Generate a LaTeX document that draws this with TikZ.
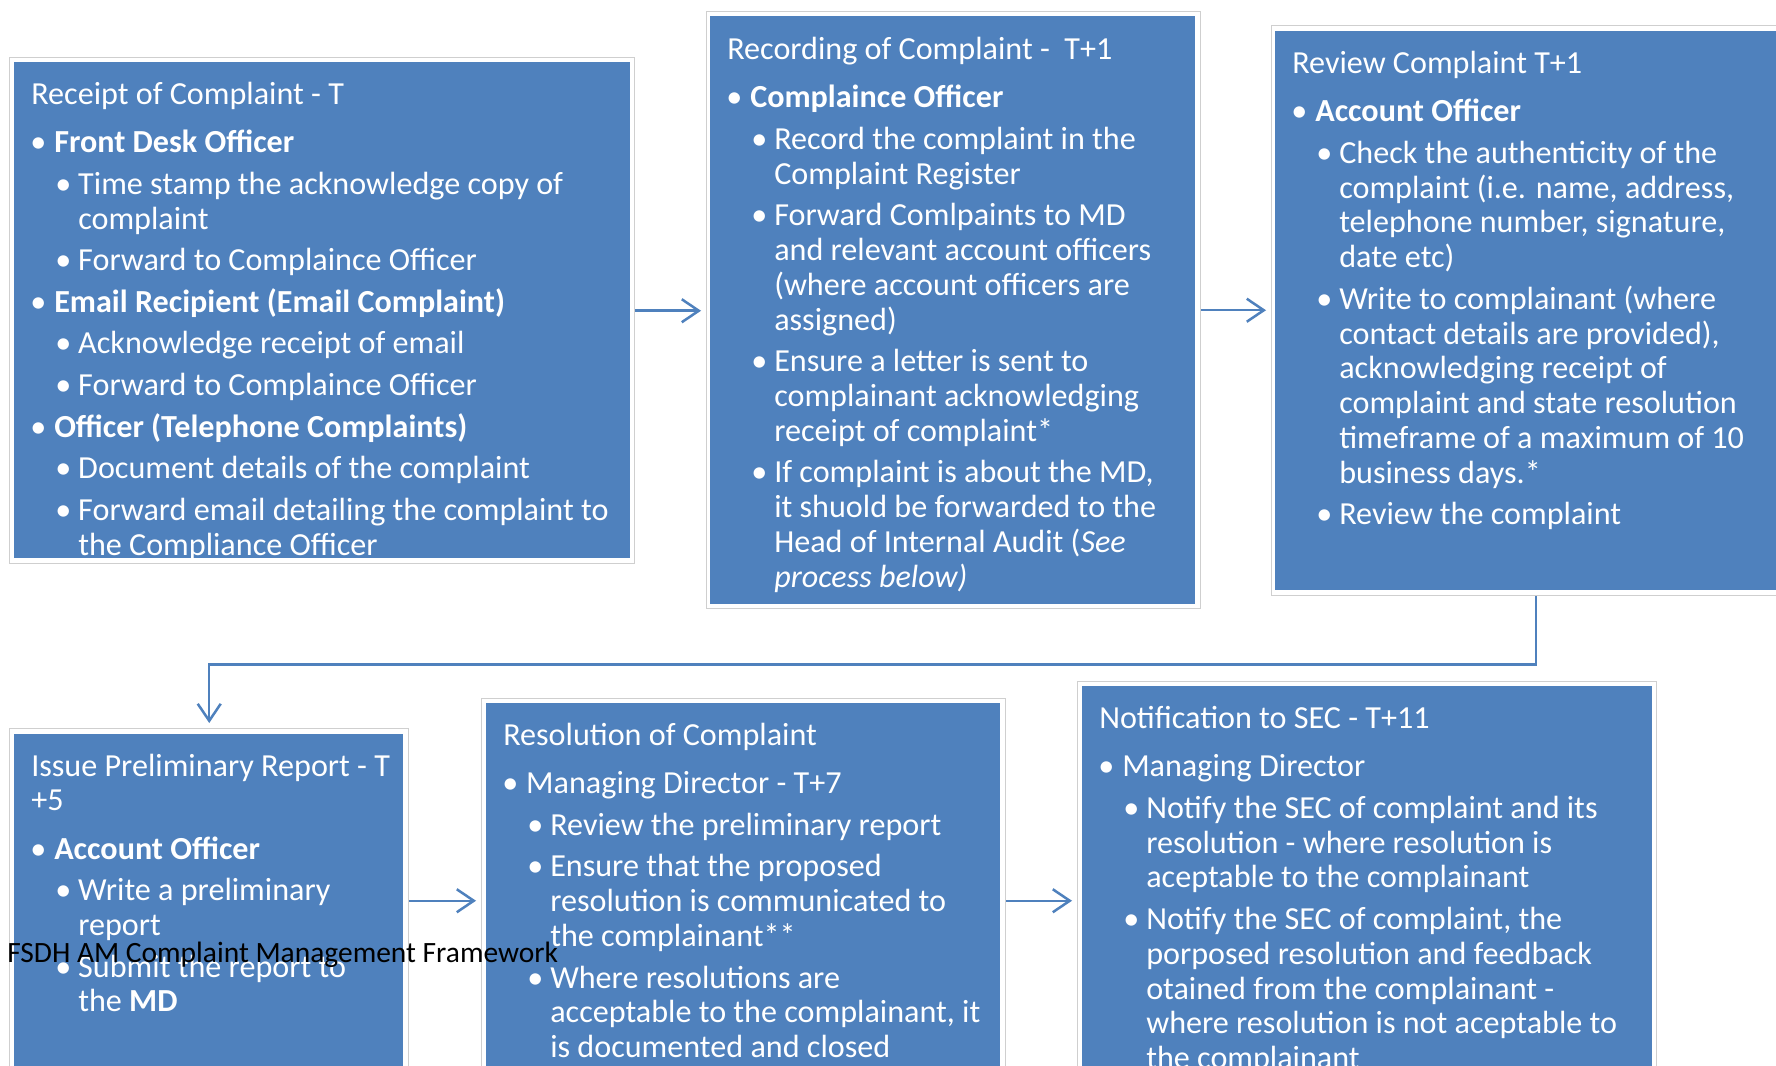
\documentclass[tikz,border=0pt]{standalone}
\usepackage{fontspec}
\setmainfont{Carlito}
\usetikzlibrary{arrows.meta}
\newlength\pxu \setlength\pxu{0.75pt}
\definecolor{boxblue}{HTML}{4F81BD}
\definecolor{framegray}{HTML}{CFCFCF}
\definecolor{arrowblue}{HTML}{4F81BD}
\newcommand\boxtext[1]{\begin{minipage}[t]{480pt}#1\end{minipage}}
\newcommand\Ti[1]{\noindent#1\par\vspace{6.6\pxu}}
\newcommand\La[1]{\par\vspace{6.8\pxu}{\leftskip=23\pxu\noindent\llap{\makebox[24\pxu][l]{\textbullet}}#1\par}}
\newcommand\Lb[1]{\par\vspace{6.8\pxu}{\leftskip=47\pxu\noindent\llap{\makebox[23\pxu][l]{\textbullet}}#1\par}}
\tikzset{
  frame/.style={draw=framegray, line width=1.1pt, fill=white, inner sep=0pt, anchor=north west},
  bluebox/.style={fill=boxblue, draw=none, inner sep=0pt, anchor=north west},
  txt/.style={text=white, inner sep=0pt, anchor=base west,
    font=\fontsize{24.1pt}{26.1pt}\selectfont},
  arr/.style={draw=arrowblue, line width=1.875pt, shorten >=3.75pt,
    -{Straight Barb[length=12.75pt,width=17.25pt]}},
}
\begin{document}
\begin{tikzpicture}[x=0.75pt,y=-0.75pt]
\useasboundingbox (0,0) rectangle (1776,1065);
\fill[white] (0,0) rectangle (1776,1065);
\clip (0,0) rectangle (1776,1065);

% frames and boxes
\node[frame, minimum width=468.75pt, minimum height=379.5pt] (f1) at (9,57) {};
\node[bluebox, minimum width=462pt, minimum height=372pt] (b1) at (14,62) {};
\node[frame, minimum width=370.5pt, minimum height=447.75pt] (f2) at (706,11) {};
\node[bluebox, minimum width=363.75pt, minimum height=441pt] (b2) at (710,16) {};
\node[frame, minimum width=396pt, minimum height=427.5pt] (f3) at (1271,25) {};
\node[bluebox, minimum width=390pt, minimum height=419.25pt] (b3) at (1275,31) {};
\node[frame, minimum width=299.25pt, minimum height=258pt] (f4) at (9,728) {};
\node[bluebox, minimum width=291.75pt, minimum height=255pt] (b4) at (14,734) {};
\node[frame, minimum width=393pt, minimum height=303pt] (f5) at (481,698) {};
\node[bluebox, minimum width=385.5pt, minimum height=300pt] (b5) at (486,703) {};
\node[frame, minimum width=434.25pt, minimum height=328.5pt] (f6) at (1077,681) {};
\node[bluebox, minimum width=427.5pt, minimum height=315pt] (b6) at (1082,686) {};

% texts
\node[txt] (t1) at ([shift={(17,42.5)}]b1.north west) {\boxtext{%
\Ti{Receipt of Complaint - T}
\La{\textbf{Front Desk Officer}}
\Lb{Time stamp the acknowledge copy of\\complaint}
\Lb{Forward to Complaince Officer}
\La{\textbf{Email Recipient (Email Complaint)}}
\Lb{Acknowledge receipt of email}
\Lb{Forward to Complaince Officer}
\La{\textbf{Officer (Telephone Complaints)}}
\Lb{Document details of the complaint}
\Lb{Forward email detailing the complaint to\\the Compliance Officer}}};

\node[txt] (t2) at ([shift={(17,43.5)}]b2.north west) {\boxtext{%
\Ti{Recording of Complaint -\ \ T+1}
\La{\textbf{Complaince Officer}}
\Lb{Record the complaint in the\\Complaint Register}
\Lb{Forward Comlpaints to MD\\and relevant account officers\\(where account officers are\\assigned)}
\Lb{Ensure a letter is sent to\\complainant acknowledging\\receipt of complaint*}
\Lb{If complaint is about the MD,\\it shuold be forwarded to the\\Head of Internal Audit (\textit{See}\\\textit{process below)}}}};

\node[txt] (t3) at ([shift={(17,42.5)}]b3.north west) {\boxtext{%
\Ti{Review Complaint T+1}
\La{\textbf{Account Officer}}
\Lb{Check the authenticity of the\\complaint (i.e. name, address,\\telephone number, signature,\\date etc)}
\Lb{Write to complainant (where\\contact details are provided),\\acknowledging receipt of\\complaint and state resolution\\timeframe of a maximum of 10\\business days.*}
\Lb{Review the complaint}}};

\node[txt] (t4) at ([shift={(17,42)}]b4.north west) {\boxtext{%
\Ti{Issue Preliminary Report - T\\+5}
\La{\textbf{Account Officer}}
\Lb{Write a preliminary\\report}
\Lb{Submit the report to\\the \textbf{MD}}}};

\node[txt] (t5) at ([shift={(17,42.5)}]b5.north west) {\boxtext{%
\Ti{Resolution of Complaint}
\La{Managing Director - T+7}
\Lb{Review the preliminary report}
\Lb{Ensure that the proposed\\resolution is communicated to\\the complainant**}
\Lb{Where resolutions are\\acceptable to the complainant, it\\is documented and closed}}};

\node[txt] (t6) at ([shift={(17,42.5)}]b6.north west) {\boxtext{%
\Ti{Notification to SEC - T+11}
\La{Managing Director}
\Lb{Notify the SEC of complaint and its\\resolution - where resolution is\\aceptable to the complainant}
\Lb{Notify the SEC of complaint, the\\porposed resolution and feedback\\otained from the complainant -\\where resolution is not aceptable to\\the complainant}}};

% connectors
\draw[arr] (f1.east) -- (f1.east -| f2.west);
\draw[arr] (f2.east) -- (f2.east -| f3.west);
\draw[arr] (f3.south) -- ++(0,68) -| (f4.north);
\draw[arr] (f4.east) -- (f4.east -| f5.west);
\draw[arr] (f5.east) -- (f5.east -| f6.west);

% footer
\node[anchor=base west, inner sep=0pt, text=black, font=\fontsize{22.1pt}{26pt}\selectfont] (foot) at (7,962) {FSDH AM Complaint Management Framework};
\end{tikzpicture}
\end{document}
